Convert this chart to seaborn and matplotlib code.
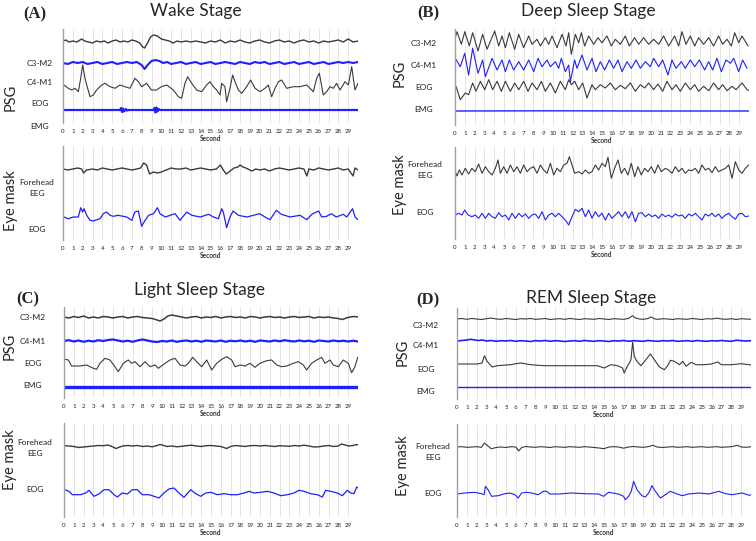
import numpy as np
import matplotlib
matplotlib.use("Agg")
import matplotlib.pyplot as plt
import seaborn as sns

# ---- data: (second, amplitude) samples ----
# Wake stage, PSG
wake_c3 = [(0, 0), (0.3, 1), (0.6, -1), (1, 0), (1.4, -1), (1.9, 2), (2.2, 0), (2.6, -1), (3, -2), (3.4, 0),
           (3.8, -1), (4.2, 0), (4.6, -2), (5, 0), (5.4, 1), (5.8, -1), (6.2, 0), (6.6, -1), (7, 1), (7.4, 0),
           (7.8, -2), (8.1, -6), (8.3, -7), (8.6, -2), (8.9, 4), (9.2, 6), (9.6, 5), (10, 2), (10.4, 1), (10.8, 0),
           (11.2, -2), (11.6, 0), (12, -1), (12.5, 0), (13, -1), (13.5, 0), (14, -1), (14.5, -2), (15, 0),
           (15.5, -1), (16, 1), (16.5, -2), (17, 0), (17.5, -1), (18, 1), (18.5, -1), (19, -2), (19.5, 0), (20, 1),
           (20.5, -1), (21, -2), (21.5, 0), (22, 1), (22.5, -1), (23, 0), (23.5, -2), (24, 0), (24.5, 1),
           (25, -1), (25.5, 0), (26, -2), (26.5, 0), (27, -1), (27.5, 0), (28, 1), (28.5, -1), (29, 2),
           (29.5, -1), (30, 0)]
wake_c4 = [(0, 0), (0.5, -1), (1, 1), (1.5, 0), (2, 1), (2.5, -1), (3, 0), (3.5, 1), (4, -1), (4.5, 0), (5, 1),
           (5.5, -1), (6, 0), (6.5, 1), (7, 0), (7.5, 1), (8, -2), (8.3, -6), (8.6, -2), (9, 2), (9.4, 3),
           (9.8, 2), (10.2, 0), (10.6, 1), (11, -1), (11.5, 0), (12, 1), (12.5, -1), (13, 0), (13.5, 1), (14, -1),
           (14.5, 0), (15, 1), (15.5, -1), (16, 0), (16.5, 1), (17, 0), (17.5, -1), (18, 1), (18.5, 0), (19, -1),
           (19.5, 1), (20, 0), (20.5, 1), (21, -1), (21.5, 0), (22, 1), (22.5, -1), (23, 0), (23.5, 1), (24, -1),
           (24.5, 0), (25, 1), (25.5, -1), (26, 0), (26.5, 1), (27, -1), (27.5, 0), (28, 1), (28.5, 0), (29, 1),
           (29.5, 0), (30, 1)]
wake_eog = [(0.1, 0), (0.54, -3.3), (0.88, -5), (1.22, -3.3), (1.56, -6.7), (1.8, 6.7), (2.0, 20), (2.24, 6.7),
            (2.41, 0), (2.75, -11.7), (3.08, -10), (3.42, -5), (3.93, 0), (4.27, 1.7), (4.78, -1.7), (5.29, -3.3),
            (5.8, 0), (6.3, -1.7), (6.81, -3.3), (7.32, 6.7), (7.66, 3.3), (8.0, -1.7), (8.5, 1.7), (9.0, -5),
            (9.5, -5), (10.0, -1.7), (10.54, 0), (11.22, -5), (11.73, -11.7), (12.07, -13.3), (12.4, 1.7),
            (12.68, 8.3), (13.08, 1.7), (13.59, -5), (14.1, -6.7), (14.61, 0), (14.95, 3.3), (15.29, -1.7),
            (15.63, -5), (15.97, -10), (16.14, 1.7), (16.47, -1.7), (16.64, -16.7), (16.98, -3.3), (17.25, 10),
            (17.49, 3.3), (17.83, -5), (18.17, -8.3), (18.68, -1.7), (19.08, 5), (19.53, -3.3), (20.03, -6.7),
            (20.54, -3.3), (20.88, 0), (21.22, -11.7), (21.56, -3.3), (21.9, 3.3), (22.24, 5), (22.75, -3.3),
            (23.42, -1.7), (24.1, -1.7), (24.78, 0), (25.46, -6.7), (25.8, 6.7), (26.07, 11.7), (26.47, -10),
            (26.81, -6.7), (27.15, -1.7), (27.49, -3.3), (27.83, 1.7), (28.17, -5), (28.68, 3.3), (29.02, 0),
            (29.36, 18.3), (29.69, -5), (30.0, 1.7)]
wake_emg = [(0, 0), (5.8, 0), (5.9, 2), (6.0, -2), (6.1, 1.5), (6.2, -1.5), (6.4, 1), (6.5, -0.5), (6.7, 0),
            (9.2, 0), (9.3, 2), (9.4, -2.5), (9.5, 2.5), (9.6, -1.5), (9.7, 1), (9.9, 0), (30, 0)]
# Wake stage, eye mask
wake_mask_eeg = [(0, 0), (0.5, -1), (1, 0), (1.5, 1), (1.9, 0), (2.1, -4), (2.4, -1), (3, 0), (3.5, -1), (4, 1),
                 (4.5, 0), (5, -1), (5.5, 0), (6, 1), (6.5, 0), (7, -1), (7.5, 0), (7.9, 1), (8.2, 6), (8.5, 4),
                 (8.8, -5), (9.2, -3), (9.6, -4), (10, -3), (10.5, -1), (11, 1), (11.5, 0), (12, 0), (12.5, 1),
                 (13, -1), (13.5, 0), (14, 1), (14.5, 0), (15, -1), (15.6, 0), (16, 4), (16.3, -1), (16.6, -5),
                 (17, -2), (17.4, 1), (17.8, 2), (18, 4), (18.3, 2), (18.6, 1), (19.2, -2), (19.6, 0), (20, -1),
                 (20.5, 0), (21, -2), (21.5, 0), (22, 1), (22.5, 0), (23, -1), (23.5, 0), (24, 1), (24.5, 0),
                 (24.8, -7), (25, 0), (25.5, -1), (26, 1), (26.5, 0), (27, -1), (27.5, 0), (28, 1), (28.5, -1),
                 (29, 0), (29.5, -7), (29.7, 1), (30, -1)]
wake_mask_eog = [(0.1, 0), (0.54, -1.7), (1.05, 0), (1.56, 0), (1.8, 9.3), (2.0, 5), (2.14, 8.3), (2.41, 1.7),
                 (2.75, -3.3), (3.08, -4), (3.76, -1.7), (4.1, 3.3), (4.44, 5), (4.78, 1.7), (5.12, 0.7),
                 (5.6, 1.7), (6.48, 0), (7.0, -3.3), (7.3, 5), (7.66, 6), (8.0, -9.3), (8.24, -5), (8.7, 1.7),
                 (9.2, 3.3), (9.6, 9.3), (9.86, 3.3), (10.4, 0), (10.9, 1.7), (11.4, 3.3), (11.9, -3.3),
                 (12.58, 5), (13.1, 1.7), (13.95, 0), (14.8, 2.7), (15.3, 0), (15.8, -1.7), (16.14, 8.3),
                 (16.3, 5), (16.64, -10.7), (16.98, 0), (17.3, 6), (17.83, 1.7), (18.7, 0), (19.36, 1.7),
                 (20.0, 3.3), (20.54, 0), (21.05, -2.7), (21.7, 6.7), (22.2, 2.7), (23.1, 0), (24.1, 1.7),
                 (24.8, -2.7), (25.3, 2.7), (26.0, 6), (26.3, 0), (26.8, 0.7), (27.3, 3.3), (27.8, 0),
                 (28.5, 2.7), (28.85, 0), (29.45, 8.3), (29.7, 0), (30.0, -2.7)]

# Deep sleep stage, PSG
deep_c3 = [(0.03, 3.3), (0.2, 9.3), (0.65, -3.3), (1.0, 9.3), (1.46, -5), (1.8, 8.3), (2.35, -10), (2.82, 6.7),
           (3.27, -8.3), (4.05, 10), (4.46, -5), (4.8, 5), (5.14, -6.7), (5.54, 8.3), (6.09, -8.3), (6.5, 6.7),
           (7.0, -6.7), (7.52, 5), (7.86, -3.3), (8.37, 1.7), (8.71, -5), (9.22, 3.3), (9.56, -3.3), (9.9, 5),
           (10.41, -6.7), (10.92, 6.7), (11.33, -5), (11.6, 8.3), (11.87, -13.3), (12.28, 6.7), (12.62, -1.7),
           (12.89, 8.3), (13.23, -5), (13.64, 5), (14.15, -3.3), (14.59, 3.3), (15.0, -1.7), (15.51, 5),
           (15.95, -5), (16.36, 1.7), (16.87, -3.3), (17.38, 5), (17.79, -5), (18.33, 3.3), (18.74, -3.3),
           (19.25, 3.3), (19.76, -3.3), (20.27, 1.7), (20.78, -3.3), (21.29, 5), (21.8, -5), (22.41, 5),
           (22.82, -5), (23.16, 9.3), (23.57, -3.3), (24.01, 5), (24.46, -5), (24.86, 3.3), (25.37, -3.3),
           (25.88, 3.3), (26.39, -5), (26.9, 5), (27.31, -3.3), (27.76, 1.7), (28.2, -5), (28.54, 8.3),
           (28.95, -1.7), (29.29, 5), (29.9, -5)]
deep_c4 = [(0.03, 6.7), (0.54, -1.7), (0.99, 11.7), (1.39, -10), (1.8, 16.7), (2.35, -8.3), (2.82, 5),
           (3.1, -11.7), (3.78, 6.7), (4.29, -5), (4.8, 5), (5.14, -6.7), (5.54, 5), (5.99, -5), (6.5, 3.3),
           (7.01, -5), (7.52, 5), (8.03, -6.7), (8.47, 6.7), (8.88, -1.7), (9.39, 5), (9.73, -1.7), (10.24, 3.3),
           (10.58, -3.3), (10.85, 6.7), (11.26, -6.7), (11.6, 0), (11.77, -16.7), (12.21, 5), (12.45, -3.3),
           (12.96, 10), (13.47, -5), (13.98, 6.7), (14.39, -6.7), (14.83, 3.3), (15.27, -5), (15.75, 5),
           (16.19, -3.3), (16.63, 5), (17.04, -6.7), (17.55, 3.3), (17.99, -3.3), (18.47, 5), (18.91, -3.3),
           (19.42, 3.3), (19.93, -1.7), (20.27, 6.7), (20.78, -1.7), (21.19, 5), (21.73, -10), (22.14, 5),
           (22.55, -3.3), (23.1, 3.3), (23.5, -3.3), (24.01, 5), (24.46, -1.7), (24.93, 5), (25.48, -5),
           (25.88, 3.3), (26.29, -5), (26.73, 6.7), (27.18, -6.7), (27.65, 5), (28.1, 1.7), (28.44, 6.7),
           (28.95, -6.7), (29.35, 5), (29.8, -3.3)]
deep_eog = [(0.1, 1.7), (0.54, -11.7), (1.05, -5), (1.39, -6.7), (1.8, 5), (2.14, -3.3), (2.59, 6.7), (3.03, -1.7),
            (3.44, 8.3), (3.84, -1.7), (4.29, 6.7), (4.73, -3.3), (5.14, 6.7), (5.65, -3.3), (6.09, 5), (6.5, -1.7),
            (7.01, 6.7), (7.45, -3.3), (7.86, 5), (8.37, -1.7), (8.81, 6.7), (9.22, -3.3), (9.73, 5), (10.24, -5),
            (10.75, 6.7), (11.26, -1.7), (11.6, 8.3), (11.87, 3.3), (12.21, 6.7), (12.62, -1.7), (13.03, 5),
            (13.47, -10), (13.98, 3.3), (14.32, -1.7), (14.83, 3.3), (15.34, 0), (15.85, 5), (16.36, -1.7),
            (16.87, 2.7), (17.38, -0.7), (17.89, 5), (18.4, -3.3), (18.91, 3.3), (19.35, 0), (19.76, 5),
            (20.27, -1.7), (20.71, 4), (21.19, -3.3), (21.63, 6.7), (22.14, -1.7), (22.55, 3.3), (22.99, -3.3),
            (23.5, 5), (24.01, -1.7), (24.46, 3.3), (24.86, -3.3), (25.37, 1.7), (25.88, -2.7), (26.39, 5),
            (26.9, -1.7), (27.31, 3.3), (27.76, -2.7), (28.27, 1.7), (28.68, -1.7), (29.29, 5), (29.8, -1.7),
            (30.0, -2.7)]
deep_emg = [(0, 0), (10, 0.2), (20, 0), (30, 0)]
# Deep sleep stage, eye mask
deep_mask_eeg = [(0.03, -1.7), (0.2, -6), (0.44, 0), (0.71, -5), (1.05, 1.7), (1.39, -4), (1.73, 1.7), (2.07, -1.7),
                 (2.41, 6), (2.76, -3.3), (3.1, 3.3), (3.44, -1.7), (3.78, -5), (4.12, 1.7), (4.39, 10),
                 (4.63, -3.3), (4.97, 3.3), (5.31, -3.3), (5.65, 5), (5.99, -1.7), (6.33, 3.3), (6.67, -3.3),
                 (7.01, 5), (7.35, -1.7), (7.69, 1.7), (8.03, 3.3), (8.37, -3.3), (8.71, 5), (9.05, 0),
                 (9.39, -3.3), (9.73, 6.7), (10.07, -5), (10.41, 1.7), (10.75, -1.7), (11.09, 5), (11.43, 6.7),
                 (11.67, 13.3), (11.94, 5), (12.21, -3.3), (12.62, -1.7), (12.96, -4), (13.3, 0), (13.64, -3.3),
                 (13.98, -1.7), (14.32, 5), (14.66, 0), (15.0, 6.7), (15.34, 3.3), (15.61, 12.7), (15.95, -8.3),
                 (16.29, 1.7), (16.63, 10), (16.97, -3.3), (17.31, 1.7), (17.65, -5), (17.99, 6.7), (18.33, -6.7),
                 (18.67, 3.3), (19.01, -5), (19.35, 1.7), (19.69, -1.7), (20.03, 3.3), (20.37, -3.3), (20.71, 5),
                 (21.05, -1.7), (21.46, 1.7), (21.8, 0), (22.14, -3.3), (22.48, 3.3), (22.82, -1.7), (23.16, 1.7),
                 (23.5, -3.3), (23.84, 0), (24.18, -0.7), (24.52, 1.7), (24.86, -3.3), (25.2, 5), (25.54, 0),
                 (25.88, 1.7), (26.22, -2.7), (26.56, 3.3), (26.9, -1.7), (27.24, 0), (27.59, 1.7), (27.93, 5),
                 (28.27, -8.3), (28.61, 8.3), (28.95, 0), (29.29, -3.3), (29.63, 1.7), (29.97, 5)]
deep_mask_eog = [(0.03, 0), (0.37, 1.7), (0.71, 0), (0.99, 5), (1.33, 0), (1.73, -1.7), (2.07, 0), (2.41, -3.3),
                 (2.76, 1.7), (3.1, -3.3), (3.44, 1.7), (3.78, -1.7), (4.12, -3.3), (4.46, 2.3), (4.8, -1.7),
                 (5.14, 0), (5.48, -5), (5.82, 1.7), (6.16, -3.3), (6.5, 1.7), (6.84, -1.7), (7.18, 1),
                 (7.52, -3.3), (7.86, 0), (8.2, 1), (8.54, -3.3), (8.88, 3.3), (9.22, -5), (9.56, 0), (9.9, 1.7),
                 (10.24, -1.7), (10.58, 1.7), (10.92, -1.7), (11.26, -5), (11.6, -10), (11.94, -1.7), (12.28, 5.7),
                 (12.62, 3.3), (12.96, 6.7), (13.3, -1.7), (13.64, 5), (13.98, -3.3), (14.32, 3.3), (14.66, -1.7),
                 (15.0, 1.7), (15.34, -5), (15.68, 1.7), (16.02, -3.3), (16.36, 0), (16.7, 3.3), (17.04, -1.7),
                 (17.38, 3.3), (17.72, -3.3), (18.06, 3.3), (18.4, -6.7), (18.74, 1.7), (19.08, 2.3), (19.42, -1.7),
                 (19.76, 1), (20.1, -1.7), (20.44, 0), (20.78, -3.3), (21.12, 1), (21.46, -1.7), (21.8, 0),
                 (22.14, -2.3), (22.48, 1), (22.82, -1), (23.16, 0), (23.5, -3.3), (23.84, 1), (24.18, -1),
                 (24.52, 1.7), (24.86, -1.7), (25.2, -5), (25.54, 1), (25.88, -1), (26.22, 1.7), (26.56, -1.7),
                 (26.9, 1), (27.24, -3.3), (27.59, 0), (27.93, 1.7), (28.27, -1.7), (28.61, -4.3), (28.95, 1),
                 (29.29, 1.7), (29.63, -1.7), (29.97, -1)]

# Light sleep stage, PSG
light_c3 = [(0, 0), (0.5, -1), (1, 0.5), (1.5, -0.5), (2, 1), (2.5, -1), (3, 0), (3.5, -1), (4, 0.5), (4.5, 0),
            (5, -1), (5.5, 0), (6, 0.5), (6.5, -1), (7, 0), (7.5, 0.5), (8, -0.5), (8.5, -1), (9, -1.5), (9.5, -3),
            (9.8, -4), (10.2, -2), (10.6, 1), (11, 2), (11.5, 1), (12, 0), (12.5, -1), (13, 0), (13.5, 0.5),
            (14, -1), (14.5, 0), (15, -0.5), (15.5, 0.5), (16, -1), (16.5, 0), (17, 0.5), (17.5, -0.5), (18, 0),
            (18.5, -1), (19, 0.5), (19.5, 0), (20, -1), (20.5, 0), (21, 0.5), (21.5, -0.5), (22, 0), (22.5, -1),
            (23, 0), (23.5, 0.5), (24, -0.5), (24.5, 0), (25, 0.5), (25.5, -1), (26, 0), (26.5, -0.5), (27, 0),
            (27.5, -1), (28, -1.5), (28.4, -2.5), (28.8, -1), (29.2, 0), (29.6, 0.5), (30, 0)]
light_c4 = [(0, 0), (0.5, 0.8), (1, -0.5), (1.5, 0.5), (2, -0.8), (2.5, 0.3), (3, -0.5), (3.5, 0.8), (4, 0),
            (4.5, 1), (5, 1.5), (5.5, 0.5), (6, -0.5), (6.5, 0.3), (7, -0.8), (7.5, 0.5), (8, 1.5), (8.5, 0.5),
            (9, -0.5), (9.5, -1), (10, 0), (10.5, -0.5), (11, 0.5), (11.5, -0.8), (12, 0), (12.5, 0.5), (13, -0.5),
            (13.5, 0.3), (14, -0.8), (14.5, 0.5), (15, 0), (15.5, -0.5), (16, 0.5), (16.5, -0.8), (17, 0.3),
            (17.5, -0.3), (18, 0.5), (18.5, -0.5), (19, 0.3), (19.5, -0.8), (20, 0.5), (20.5, 0), (21, -0.5),
            (21.5, 0.5), (22, -0.3), (22.5, 0.8), (23, 0), (23.5, -0.5), (24, 0.5), (24.5, -0.3), (25, 0.3),
            (25.5, -0.8), (26, 0.5), (26.5, 0), (27, -0.5), (27.5, 0.5), (28, -0.3), (28.5, 0.3), (29, -0.5),
            (29.5, 0.3), (30, -0.5)]
light_eog = [(0.1, 4.7), (0.44, 4), (0.78, -2), (1.63, -2), (2.31, -1), (2.99, -4.3), (3.33, -5.3), (3.67, 0.7),
             (4.18, 5.7), (4.69, 4), (5.2, -2.7), (5.54, -7.7), (6.05, 0.7), (6.56, 4), (6.9, 0.7), (7.24, 2.3),
             (7.76, -2.7), (8.27, 2.3), (8.78, -2.7), (9.29, -1), (9.63, -4.3), (10.31, 0.7), (10.82, 4),
             (11.33, 5.7), (11.84, -1), (12.35, -2), (12.69, 0.7), (13.13, 6.7), (13.54, 2.3), (14.05, -2.7),
             (14.56, 4), (15.07, -6), (15.58, 0.7), (16.09, 4.7), (16.6, 7.3), (17.11, 4), (17.45, -2.7),
             (17.96, -1), (18.47, -2), (18.98, 0.7), (19.49, -3.3), (20.0, 0.7), (20.68, 3.3), (21.19, 4),
             (21.7, -1), (22.21, -2.7), (22.72, -2), (23.4, 0.7), (23.91, 2.3), (24.42, -1), (24.76, -6),
             (25.27, 0.7), (25.78, 4), (26.29, 6.7), (26.63, 0.7), (27.14, 4), (27.48, -1), (27.99, -2.7),
             (28.5, 4), (29.01, 0.7), (29.35, -8.7), (29.69, -2.7), (29.97, 6.7)]
light_emg = [(0, 0), (10, 0), (20, 0), (30, 0)]
# Light sleep stage, eye mask
light_mask_eeg = [(0, 0.5), (0.5, 0), (1, -0.5), (1.5, -1.5), (2, -1), (2.5, -0.5), (3, 0), (3.5, 0.5), (4, 0.3),
                  (4.5, 1), (5, -1), (5.3, -2.5), (5.7, -1), (6, 0), (6.5, 0.5), (7, 0), (7.5, 0.5), (8, -0.5),
                  (8.5, 0), (9, -0.8), (9.5, 0.5), (9.8, 1.5), (10.2, 0.5), (10.5, -0.5), (11, 0), (11.5, -0.8),
                  (12, -0.3), (12.5, 0.3), (13, 0.8), (13.5, 0), (14, -0.5), (14.5, 0.3), (15, 0.5), (15.5, 0),
                  (16, -0.5), (16.6, -2.5), (17, -0.5), (17.5, 0.5), (18, 0), (18.5, -0.5), (19, 0.3), (19.5, 0.5),
                  (20, 0), (20.5, 0.5), (21, 0), (21.5, -0.5), (22, 0.3), (22.5, 0), (23, -0.3), (23.5, 0.5),
                  (24, 0), (24.5, 0.8), (25, 0), (25.5, -1), (26, -0.8), (26.5, 0), (27, 0.5), (27.5, -0.5), (28, 0),
                  (28.3, 2), (28.7, 1), (29, 0), (29.5, 0.5), (29.8, 1.5), (30, 1)]
light_mask_eog = [(0.07, 3.3), (0.51, 1.7), (0.85, -1.7), (1.7, -1.7), (2.21, 0), (2.55, 2.7), (3.06, -3.3),
                  (3.57, -1), (4.08, 3.3), (4.59, 3.3), (5.1, -1.7), (5.44, -4), (5.95, 0), (6.46, -1), (6.97, 3.3),
                  (7.48, 3.3), (7.99, -1.7), (8.67, -1.7), (9.18, -3.3), (9.69, -5), (10.2, 0), (10.71, 4),
                  (11.22, 5), (11.73, 0), (12.24, -4.3), (12.93, 3.3), (13.44, -0.7), (13.95, -3.3), (14.46, 0),
                  (14.97, 0.7), (15.65, -1.7), (16.33, -0.7), (17.01, -1.7), (17.69, -1.7), (18.37, 0),
                  (18.88, 1.7), (19.39, 0), (20.07, 0.7), (20.75, 1.7), (21.43, 0), (22.11, -2.7), (22.79, -1.7),
                  (23.47, 0), (23.98, 2.7), (24.49, 1.7), (25.17, -0.7), (25.85, -1.7), (26.36, -4), (26.7, 2.7),
                  (27.21, 1.7), (27.89, 0), (28.4, -2.7), (28.91, 2.7), (29.25, 0), (29.59, -0.7), (29.86, 6),
                  (30.0, 5)]

# REM sleep stage, PSG
rem_c3 = [(0, 0), (0.5, 0.5), (1, -0.3), (1.5, 0.5), (2, 0), (2.5, -0.5), (3, 0.3), (3.5, 1), (4, 0), (4.5, -0.3),
          (5, 0.5), (5.5, 0), (6, -0.5), (6.5, 0.3), (7, 0), (7.5, 0.5), (8, -0.3), (8.5, 0), (9, 0.5), (9.5, -0.5),
          (10, 0), (10.5, 0.3), (11, -0.3), (11.5, 0.5), (12, 0), (12.5, -0.5), (13, 0.3), (13.5, 0), (14, -0.3),
          (14.5, 0.5), (15, 0), (15.5, -0.5), (16, 0.3), (16.5, 0), (17, -0.3), (17.5, 0.5), (17.9, 3.3),
          (18.2, 1), (18.6, 0), (19, -0.3), (19.5, 0.5), (19.8, 2), (20.2, 0), (20.5, -0.3), (21, 0.3), (21.5, 0),
          (22, -0.5), (22.5, 0.3), (23, 0), (23.5, -0.3), (24, 0.5), (24.5, 0), (25, -0.5), (25.5, 0.3), (26, 0),
          (26.5, 0.8), (27, 0), (27.5, -0.3), (28, 0.3), (28.5, -0.5), (29, 0.3), (29.5, 0), (30, -0.3)]
rem_c4 = [(0, 0), (0.5, 0.5), (1, 1), (1.4, 1.7), (1.8, 1), (2.2, 0.5), (2.6, 1), (3, 0), (3.5, 0.5), (4, -0.3),
          (4.5, 0.3), (5, 0), (5.5, 0.5), (6, -0.3), (6.5, 0.3), (7, 0), (7.5, -0.5), (8, 0.3), (8.5, 0), (9, 0.5),
          (9.5, -0.3), (10, 0.3), (10.5, 0), (11, -0.5), (11.5, 0), (12, 0.3), (12.5, -0.3), (13, 0.5), (13.5, 0),
          (14, -0.3), (14.5, 0.3), (15, 0), (15.5, -0.5), (16, 0.3), (16.5, 0), (17, 0.5), (17.5, -0.3), (18, 0.3),
          (18.5, 0), (19, -0.3), (19.5, 0.5), (20, 0), (20.5, -0.3), (21, 0.3), (21.5, 0), (22, 0.5), (22.5, -0.3),
          (23, 0), (23.5, 0.3), (24, -0.3), (24.5, 0.5), (25, 0), (25.5, -0.3), (26, 0.3), (26.5, 0), (27, 0.5),
          (27.5, 0), (28, -0.3), (28.5, 0.8), (29, 0.3), (29.5, 0), (30, 0.3)]
rem_eog = [(0, 0), (2.05, 0), (2.56, 1), (2.8, 8.3), (3.07, 2.7), (3.58, -3), (4.1, -1.7), (5.46, -0.7), (6.48, 1),
           (7.51, -0.7), (8.87, -1.7), (10.92, -1.7), (12.97, -1.7), (14.33, -1.7), (15.02, -4), (15.7, -0.7),
           (16.38, -1.7), (16.89, -4), (17.06, -9), (17.34, -3), (17.58, 1), (17.75, 4.3), (17.92, 21.7),
           (18.09, 7.7), (18.36, 2.7), (18.77, -1.7), (19.28, 4.3), (19.73, 10), (20.14, 4.3), (20.65, -3),
           (21.16, -5.7), (21.5, -1.7), (21.77, 3.7), (22.18, 2.7), (22.7, -0.7), (23.04, 2.7), (23.38, -2.3),
           (23.89, 1.7), (24.4, -0.7), (25.26, -0.7), (25.94, 0), (26.62, 2), (26.96, -0.7), (27.99, -0.7),
           (29.01, 0.3), (30.0, -1)]
rem_emg = [(0, 0), (10, 0), (20, 0), (30, 0)]
# REM sleep stage, eye mask
rem_mask_eeg = [(0, 0), (0.5, 0.3), (1, -0.3), (1.5, 0), (2, 0.3), (2.5, -0.3), (2.8, 4), (3.1, 1.5), (3.5, -1.7),
                (4, -0.5), (4.5, 0), (5, -0.5), (5.5, 0.3), (6, 0), (6.3, -4), (6.6, -0.5), (7, 0.5), (7.5, 0),
                (8, -0.3), (8.5, 0.3), (9, 0), (9.5, -0.5), (10, 0.3), (10.5, 0), (11, -0.3), (11.5, 0.3), (12, 0),
                (12.5, -0.3), (13, 0.3), (13.5, 0), (14, -0.5), (14.5, -1), (15, -1.7), (15.5, 0), (16, 0.3),
                (16.5, 0), (17, -1.2), (17.5, 0), (18, 0.5), (18.5, 0), (19, -0.3), (19.5, 0.3), (20, 1.7),
                (20.4, 0), (21, -0.5), (21.5, 0), (22, 0.3), (22.5, -0.3), (23, 0), (23.5, 0.3), (24, -0.3),
                (24.5, 0), (25, 0.3), (25.5, -0.3), (26, 0), (26.5, 0.3), (27, -0.3), (27.5, 0), (28, 0.3),
                (28.6, 1.7), (29, 0), (29.5, -0.3), (30, 0.3)]
rem_mask_eog = [(0, 0), (0.78, 1), (1.81, 1.7), (2.49, 0.3), (2.76, -0.7), (2.9, 7.7), (3.17, 4.3), (3.52, -2.3),
                (4.2, -1.7), (4.88, 0.3), (5.39, 1), (5.9, -0.7), (6.25, -4), (6.59, 1), (7.1, 1.7), (7.61, 1),
                (8.29, -0.7), (8.81, 2.7), (9.15, 2.7), (9.49, 0), (10.34, 0), (11.71, 1), (13.07, 0.3), (14.44, 0),
                (14.95, -2.3), (15.46, 1.7), (16.48, 0), (17.0, -2.3), (17.17, -5.7), (17.51, -2.3), (17.78, 2.7),
                (18.02, 12.7), (18.36, 4.3), (18.87, -1.7), (19.22, -3), (19.56, 1), (19.9, 8.3), (20.24, 2.7),
                (20.75, -4), (21.26, -0.7), (21.77, 2.7), (22.46, 0), (22.97, -1.7), (23.65, 0), (24.68, 1),
                (25.7, 0), (26.72, 2.7), (27.41, 0.3), (28.09, -0.7), (29.11, 1), (29.8, -1.3), (30.0, -0.7)]

psg_labels = ["C3-M2", "C4-M1", "EOG", "EMG"]
mask_labels = ["Forehead\nEEG", "EOG"]
stage_titles = ["Wake Stage", "Deep Sleep Stage", "Light Sleep Stage", "REM Sleep Stage"]
panel_tags = ["(A)", "(B)", "(C)", "(D)"]
seconds = list(range(30))

# ---- styling ----
sns.set_style("white")
plt.rcParams["font.family"] = ["Lato", "DejaVu Sans"]

W, H = 756, 541
fig = plt.figure(figsize=(W / 100, H / 100), dpi=100)
BLACK = "#3a3a3a"
BLUE = "#1f1fff"


def make_axes(x0, x1, ytop, ybot):
    ax = fig.add_axes([x0 / W, 1 - ybot / H, (x1 - x0) / W, (ybot - ytop) / H])
    ax.set_xlim(0, 30)
    ax.set_ylim(0, ybot - ytop)
    ax.set_xticks(seconds)
    ax.set_xticklabels([str(s) for s in seconds], fontsize=4.4, color="#222222")
    ax.set_yticks([])
    ax.grid(axis="x", color="#dedede", lw=0.6)
    ax.grid(axis="y", visible=False)
    for side in ["top", "right", "bottom"]:
        ax.spines[side].set_visible(False)
    ax.spines["left"].set_color("#a0a0a0")
    ax.spines["left"].set_linewidth(1.0)
    ax.tick_params(axis="x", length=2.5, width=0.5, color="#999999", pad=1.5)
    ax.set_xlabel("Second", fontsize=4.7, fontweight="bold", color="#333333", labelpad=1)
    ax.set_axisbelow(True)
    return ax


def trace(ax, pts, base, ybot, color, lw):
    t = [p[0] for p in pts]
    v = [(ybot - base) + p[1] for p in pts]
    sns.lineplot(x=t, y=v, ax=ax, color=color, lw=lw, sort=False, estimator=None)


def fig_text(x, y, s, **kw):
    fig.text(x / W, 1 - y / H, s, **kw)


panels = [
    dict(x0=63, x1=358, psg=(29, 123), mask=(146, 240),
         traces=[wake_c3, wake_c4, wake_eog, wake_emg], bases=[41, 63, 85, 110],
         lws=[1.0, 1.5, 0.8, 1.6],
         mtraces=[wake_mask_eeg, wake_mask_eog], mbases=[169, 217], mlws=[1.0, 0.9],
         lab_x=40, lab_y=[63, 83, 104, 126], mlab_x=37, mlab_y=[188, 229],
         side_x=11, psg_y=97, eye_y=201, title=(196, 11), tag=(35, 14)),
    dict(x0=455, x1=749, psg=(29, 125), mask=(147, 239),
         traces=[deep_c3, deep_c4, deep_eog, deep_emg], bases=[41, 65, 88, 111],
         lws=[0.8, 0.8, 0.8, 1.0],
         mtraces=[deep_mask_eeg, deep_mask_eog], mbases=[170, 215], mlws=[0.8, 0.8],
         lab_x=424, lab_y=[43, 65, 87, 109], mlab_x=425, mlab_y=[170, 212],
         side_x=400, psg_y=73, eye_y=185, title=(588, 11), tag=(428, 13)),
    dict(x0=64, x1=358, psg=(307, 398), mask=(423, 517),
         traces=[light_c3, light_c4, light_eog, light_emg], bases=[317, 341, 364, 387],
         lws=[1.1, 1.6, 0.8, 2.4],
         mtraces=[light_mask_eeg, light_mask_eog], mbases=[446, 493], mlws=[1.0, 0.9],
         lab_x=33, lab_y=[318, 341, 363, 385], mlab_x=35, mlab_y=[448, 489],
         side_x=10, psg_y=346, eye_y=460, title=(200, 290), tag=(28, 299)),
    dict(x0=457, x1=751, psg=(308, 399), mask=(424, 517),
         traces=[rem_c3, rem_c4, rem_eog, rem_emg], bases=[319, 341, 364, 387],
         lws=[0.8, 1.2, 0.8, 1.0],
         mtraces=[rem_mask_eeg, rem_mask_eog], mbases=[447, 494], mlws=[0.8, 0.8],
         lab_x=426, lab_y=[325, 346, 369, 392], mlab_x=433, mlab_y=[452, 494],
         side_x=403, psg_y=352, eye_y=466, title=(591, 298), tag=(428, 300)),
]

colors = [BLACK, BLUE, BLACK, BLUE]
mcolors = [BLACK, BLUE]

for i, p in enumerate(panels):
    ytop, ybot = p["psg"]
    ax = make_axes(p["x0"], p["x1"], ytop, ybot)
    for pts, base, c, lw in zip(p["traces"], p["bases"], colors, p["lws"]):
        trace(ax, pts, base, ybot, c, lw)
    mtop, mbot = p["mask"]
    axm = make_axes(p["x0"], p["x1"], mtop, mbot)
    for pts, base, c, lw in zip(p["mtraces"], p["mbases"], mcolors, p["mlws"]):
        trace(axm, pts, base, mbot, c, lw)

    for lab, y in zip(psg_labels, p["lab_y"]):
        fig_text(p["lab_x"], y, lab, fontsize=6, ha="center", va="center", color="#222222")
    for lab, y in zip(mask_labels, p["mlab_y"]):
        fig_text(p["mlab_x"], y, lab, fontsize=6, ha="center", va="center", color="#222222",
                 linespacing=1.6)
    fig_text(p["side_x"], p["psg_y"], "PSG", fontsize=10.5, rotation=90, ha="center", va="center")
    fig_text(p["side_x"], p["eye_y"], "Eye mask", fontsize=10.5, rotation=90, ha="center", va="center")
    fig_text(p["title"][0], p["title"][1], stage_titles[i], fontsize=12.5, ha="center", va="center")
    fig_text(p["tag"][0], p["tag"][1], panel_tags[i], fontsize=12, fontweight="bold",
             family="Liberation Serif", ha="center", va="center")

fig.savefig("out.png", dpi=100)
